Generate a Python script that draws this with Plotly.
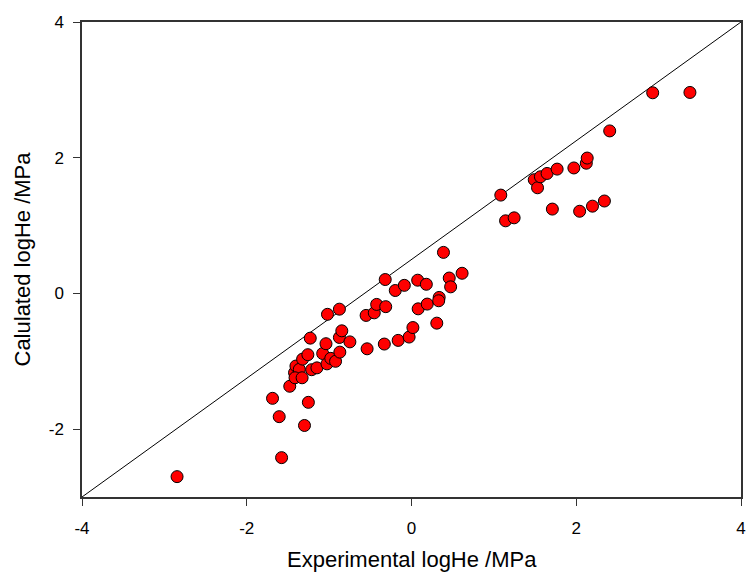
import plotly.graph_objects as go

exp_x = [-2.846, -1.577, -1.687, -1.606, -1.299, -1.252, -1.478, -1.420, -1.403, -1.362,
         -1.414, -1.328, -1.322, -1.258, -1.229, -1.212, -1.148, -1.078, -1.038, -1.026,
         -0.980, -0.922, -0.870, -0.875, -0.846, -0.748, -1.020, -0.875, -0.551, -0.452,
         -0.423, -0.313, -0.319, -0.197, -0.087, -0.539, -0.330, -0.162, -0.029, 0.017,
         0.081, 0.191, 0.075, 0.180, 0.336, 0.330, 0.307, 0.388, 0.458, 0.475,
         0.614, 1.084, 1.142, 1.246, 1.490, 1.530, 1.565, 1.646, 1.768, 1.710,
         1.971, 2.041, 2.122, 2.133, 2.197, 2.342, 2.406, 2.928, 3.380]
calc_y = [-2.70, -2.42, -1.546, -1.816, -1.946, -1.605, -1.368, -1.168, -1.070, -1.119,
          -1.243, -1.243, -0.968, -0.903, -0.659, -1.124, -1.097, -0.886, -0.741, -1.038,
          -0.957, -1.000, -0.865, -0.649, -0.551, -0.714, -0.308, -0.232, -0.324, -0.286,
          -0.162, -0.195, 0.205, 0.043, 0.119, -0.816, -0.746, -0.692, -0.643, -0.503,
          -0.227, -0.157, 0.195, 0.135, -0.059, -0.108, -0.438, 0.605, 0.227, 0.097,
          0.297, 1.449, 1.070, 1.114, 1.676, 1.557, 1.719, 1.768, 1.832, 1.243,
          1.849, 1.211, 1.919, 1.995, 1.286, 1.362, 2.395, 2.957, 2.962]

line_x = [-4, 4]
line_y = [-3, 4]

x_ticks = [-4, -2, 0, 2, 4]
x_ticktext = ["-4", "-2", "0", "2", "4"]
y_ticks = [-2, 0, 2, 4]
y_ticktext = ["-2", "0", "2", "4"]

x_title = "Experimental logHe /MPa"
y_title = "Calulated logHe /MPa"

fig = go.Figure()
fig.add_trace(go.Scatter(x=line_x, y=line_y, mode="lines",
                         line=dict(color="black", width=1), showlegend=False,
                         hoverinfo="skip"))
fig.add_trace(go.Scatter(x=exp_x, y=calc_y, mode="markers",
                         marker=dict(color="#FF0000", size=12,
                                     line=dict(color="black", width=1)),
                         showlegend=False))

font = "Liberation Sans, Arial, sans-serif"
axis_common = dict(ticks="outside", ticklen=7, tickwidth=1.3, tickcolor="#333",
                   showgrid=False, zeroline=False, showline=True,
                   linecolor="#333", linewidth=1.5, mirror=True,
                   tickfont=dict(size=17), automargin=False)
fig.update_layout(
    width=749, height=574,
    margin=dict(l=82, r=8, t=22, b=77),
    plot_bgcolor="white", paper_bgcolor="white",
    font=dict(family=font, color="black"),
    xaxis=dict(range=[-4, 4], tickvals=x_ticks, ticktext=x_ticktext,
               ticklabelstandoff=8, **axis_common),
    yaxis=dict(range=[-3, 4], tickvals=y_ticks, ticktext=y_ticktext,
               ticklabelstandoff=6, **axis_common),
    annotations=[
        dict(text=x_title, xref="paper", yref="paper", x=0.5, y=0,
             xanchor="center", yanchor="middle", yshift=-62,
             showarrow=False, font=dict(size=22)),
        dict(text=y_title, xref="paper", yref="paper", x=0, y=0.5,
             xanchor="center", yanchor="middle", xshift=-60, textangle=-90,
             showarrow=False, font=dict(size=22)),
    ],
)
fig.write_html("out.html")
